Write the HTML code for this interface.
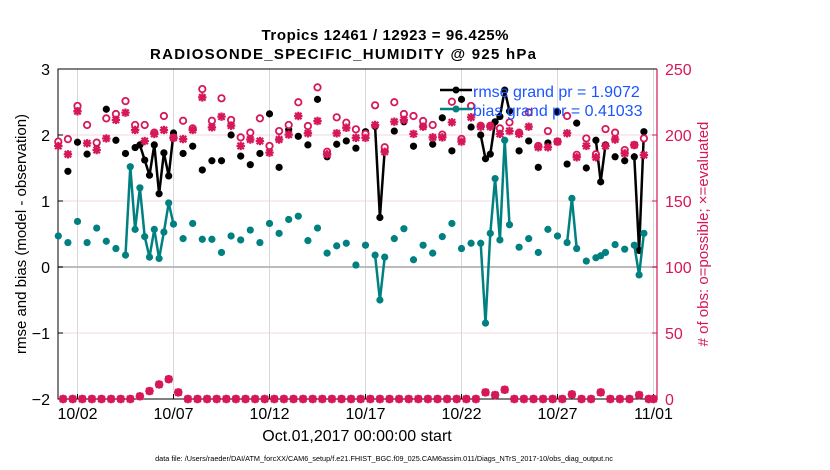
<!DOCTYPE html>
<html><head><meta charset="utf-8"><style>
html,body{margin:0;padding:0;background:#fff;}
svg{display:block;font-family:"Liberation Sans",sans-serif;}
</style></head><body>
<svg id="chart" width="830" height="470" viewBox="0 0 830 470">
<g id="grid"></g>
<g id="axes"></g>
<g id="marks"></g>
<text x="385" y="40" text-anchor="middle" font-weight="bold" font-size="15" textLength="247">Tropics 12461 / 12923 = 96.425%</text>
<text x="343" y="59" text-anchor="middle" font-weight="bold" font-size="15" textLength="386">RADIOSONDE_SPECIFIC_HUMIDITY @ 925 hPa</text>
<text transform="translate(26,234) rotate(-90)" text-anchor="middle" font-size="15">rmse and bias (model - observation)</text>
<text transform="translate(708,234) rotate(-90)" text-anchor="middle" font-size="15" fill="#d6175a"># of obs: o=possible; ×=evaluated</text>
<text x="357" y="441" text-anchor="middle" font-size="16">Oct.01,2017 00:00:00 start</text>
<text x="384" y="461" text-anchor="middle" font-size="7.3">data file: /Users/raeder/DAI/ATM_forcXX/CAM6_setup/f.e21.FHIST_BGC.f09_025.CAM6assim.011/Diags_NTrS_2017-10/obs_diag_output.nc</text>
<g>
<line x1="440" y1="90" x2="472" y2="90" stroke="#000" stroke-width="2.5"/>
<circle cx="456" cy="90" r="3.5" fill="#000"/>
<text x="473" y="97" font-size="16" fill="#1a55ff">rmse grand pr = 1.9072</text>
<line x1="440" y1="109" x2="472" y2="109" stroke="#008080" stroke-width="2.5"/>
<circle cx="456" cy="109" r="3.5" fill="#008080"/>
<text x="473" y="116" font-size="16" fill="#1a55ff">bias grand pr = 0.41033</text>
</g>
</svg>
<script>
const xTickDays = [1,6,11,16,21,26,31];
const xTickLabels = ["10/02","10/07","10/12","10/17","10/22","10/27","11/01"];
const yTicks = [3,2,1,0,-1,-2];
const y2Ticks = [250,200,150,100,50,0];
const rmseDays = [0,0.5,1,1.5,2,2.5,3,3.5,4,4.25,4.5,4.75,5,5.25,5.5,5.75,6,6.5,7,7.5,8,8.5,9,9.5,10,10.5,11,11.5,12,12.5,13,13.5,14,14.5,15,15.5,16,16.5,16.75,17,17.5,18,18.5,19,19.5,20,20.5,21,21.5,22,22.25,22.5,22.75,23,23.25,23.5,24,24.5,25,25.5,26,26.5,27,27.5,28,28.25,28.5,29,29.5,30,30.25,30.5];
const rmseVals = [1.88,1.45,1.89,1.71,1.87,2.39,1.92,1.72,1.81,1.85,1.62,1.39,1.85,1.11,1.73,1.38,2.03,1.72,1.83,1.47,1.61,1.61,2.0,1.68,1.55,1.72,2.32,1.51,2.08,1.98,1.85,2.54,1.67,1.86,1.91,1.80,2.05,2.13,0.75,1.77,2.06,2.2,1.83,2.13,1.86,2.26,1.76,2.54,2.12,2.0,1.64,1.71,2.2,2.28,2.68,2.36,1.76,1.91,1.51,1.88,2.35,1.56,2.18,1.5,1.92,1.29,1.85,1.67,1.61,1.67,0.25,2.05];
const biasDays = [0,0.5,1,1.5,2,2.5,3,3.5,3.75,4,4.25,4.5,4.75,5,5.25,5.5,5.75,6,6.5,7,7.5,8,8.5,9,9.5,10,10.5,11,11.5,12,12.5,13,13.5,14,14.5,15,15.5,16,16.5,16.75,17,17.5,18,18.5,19,19.5,20,20.5,21,21.5,22,22.25,22.5,22.75,23,23.25,23.5,24,24.5,25,25.5,26,26.5,26.75,27,27.5,28,28.25,28.5,29,29.5,30,30.25,30.5];
const biasVals = [0.47,0.37,0.69,0.37,0.59,0.39,0.28,0.18,1.52,0.57,1.2,0.46,0.15,0.57,0.13,0.53,0.97,0.65,0.43,0.66,0.42,0.42,0.22,0.47,0.41,0.56,0.37,0.66,0.51,0.72,0.77,0.40,0.59,0.21,0.32,0.36,0.03,0.33,0.18,-0.5,0.15,0.43,0.58,0.11,0.33,0.21,0.46,0.66,0.28,0.36,0.36,-0.85,0.51,1.34,0.41,1.92,0.64,0.30,0.43,0.22,0.57,0.47,0.37,1.04,0.28,0.09,0.14,0.17,0.22,0.34,0.27,0.33,-0.12,0.51];
const obsDays = [0,0.5,1,1.5,2,2.5,3,3.5,4,4.5,5,5.5,6,6.5,7,7.5,8,8.5,9,9.5,10,10.5,11,11.5,12,12.5,13,13.5,14,14.5,15,15.5,16,16.5,17,17.5,18,18.5,19,19.5,20,20.5,21,21.5,22,22.5,23,23.5,24,24.5,25,25.5,26,26.5,27,27.5,28,28.5,29,29.5,30,30.5];
const possibleVals = [195,196.9,222,207.6,194.2,212.6,215.9,225.7,207.6,207.6,201.8,214.4,197.9,210.8,205,234.8,210.8,227.8,211.4,198.2,201.8,212.6,191.7,203,207.6,224.8,206.8,236.1,187.3,213.4,209.3,204.3,200.8,222.5,190.7,224.8,215.9,214.4,210.6,207.6,200.3,225.2,197,222,207,207,205,209.6,201.8,217.2,191.7,203,195,214.4,185,197.4,185.4,204.5,201.8,188.6,192.4,197.4];
const evaluatedVals = [191.7,185.4,218,193.7,188.6,197.4,211.4,216.9,203.8,195.4,200.8,203.8,197.9,196.9,203.8,228.5,205.8,213.9,207.1,191.7,196.6,195.4,186.6,196.6,200.3,214.4,201.3,210.6,185.4,201.3,205.5,197.9,197.9,207.6,187.3,210.1,211.4,200.8,206.3,198.2,198.2,209.6,195,213.4,206.3,206.3,200.8,203,200.8,206.3,190.7,190.7,195,201.3,183.1,191.7,183.1,191.7,196.6,186.1,192.4,184.8];
const lowDays = [0.25,0.75,1.25,1.75,2.25,2.75,3.25,3.75,4.25,4.75,5.25,5.75,6.25,6.75,7.25,7.75,8.25,8.75,9.25,9.75,10.25,10.75,11.25,11.75,12.25,12.75,13.25,13.75,14.25,14.75,15.25,15.75,16.25,16.75,17.25,17.75,18.25,18.75,19.25,19.75,20.25,20.75,21.25,21.75,22.25,22.75,23.25,23.75,24.25,24.75,25.25,25.75,26.25,26.75,27.25,27.75,28.25,28.75,29.25,29.75,30.25,30.75,31];
const lowCounts = [0,0,0,0,0,0,0,0,2,6,11,15,5,0,0,0,0,0,0,0,0,0,0,0,0,0,0,0,0,0,0,0,0,0,0,0,0,0,0,0,0,0,0,0,5,3,7,0,0,0,0,0,0,3.5,0,0,5,0,0,0,3,0,0];

const NS = "http://www.w3.org/2000/svg";
const L = 58, R = 657, T = 69, B = 399;
function x(d){ return 58.3 + d * 19.2; }
function y(v){ return 267 - v * 66; }
function y2(c){ return 399 - c * 1.32; }
function mk(tag, attrs, parent){
  const e = document.createElementNS(NS, tag);
  for (const k in attrs) e.setAttribute(k, attrs[k]);
  parent.appendChild(e);
  return e;
}
const grid = document.getElementById('grid');
const axes = document.getElementById('axes');
const marks = document.getElementById('marks');
const PINK = "#d6175a", TEAL = "#008080";

y2Ticks.forEach(c => {
  const gl = mk('line', {x1:L, x2:R, y1:y2(c), y2:y2(c), stroke:'#f0d6df', 'stroke-width':1}, grid);
  
  
});
xTickDays.forEach((d, i) => {
  const gl = mk('line', {x1:x(d), x2:x(d), y1:T, y2:B, stroke:'#d8d8d8', 'stroke-width':1}, grid);
  
  
  const t = mk('text', {x:x(d), y:419, 'text-anchor':'middle', 'font-size':16}, axes);
  t.textContent = xTickLabels[i];
  
  
  mk('line', {x1:x(d), x2:x(d), y1:B, y2:B-5, stroke:'#000'}, axes);
});
const zl = mk('line', {x1:L, x2:R, y1:y(0), y2:y(0), stroke:'#bbb', 'stroke-width':2}, grid);



yTicks.forEach(v => {
  const t = mk('text', {x:50, y:y(v)+6, 'text-anchor':'end', 'font-size':16}, axes);
  t.textContent = v < 0 ? '\u2212' + Math.abs(v) : String(v);
  
  
  mk('line', {x1:L, x2:L+5, y1:y(v), y2:y(v), stroke:'#000'}, axes);
});
y2Ticks.forEach(c => {
  const t = mk('text', {x:665, y:y2(c)+6, 'font-size':16, fill:PINK}, axes);
  t.textContent = String(c);
  
  
  mk('line', {x1:R, x2:R-5, y1:y2(c), y2:y2(c), stroke:PINK}, axes);
});
mk('path', {d:`M${R},${T} L${L},${T} L${L},${B} L${R},${B}`, fill:'none', stroke:'#000', 'stroke-width':1}, axes);
mk('line', {x1:R, x2:R, y1:T, y2:B, stroke:PINK, 'stroke-width':1.2}, axes);

function series(days, vals, color, name){
  const g = mk('g', {}, marks);
  
  
  for (let i = 1; i < days.length; i++) {
    if (Math.abs(days[i] - days[i-1] - 0.25) < 1e-6) {
      mk('line', {x1:x(days[i-1]), y1:y(vals[i-1]), x2:x(days[i]), y2:y(vals[i]), stroke:color, 'stroke-width':2.5}, g);
    }
  }
  days.forEach((d, i) => {
    const c = mk('circle', {cx:x(d), cy:y(vals[i]), r:3.6, fill:color}, g);
    
    
  });
}
series(rmseDays, rmseVals, '#000', 'rmse-series');
series(biasDays, biasVals, TEAL, 'bias-series');

function star(cx, cy, g){
  const s = 4.2, d = 3.2;
  mk('path', {d:`M${cx-s},${cy}H${cx+s}M${cx},${cy-s}V${cy+s}M${cx-d},${cy-d}L${cx+d},${cy+d}M${cx-d},${cy+d}L${cx+d},${cy-d}`, stroke:PINK, 'stroke-width':2.2, fill:'none'}, g);
}
const pg = mk('g', {}, marks);


obsDays.forEach((d, i) => {
  const c = mk('circle', {cx:x(d), cy:y2(possibleVals[i]), r:3.2, fill:'#fff', stroke:PINK, 'stroke-width':1.8}, pg);
  
  
  star(x(d), y2(evaluatedVals[i]), pg);
});
lowDays.forEach((d, i) => {
  const c = mk('circle', {cx:x(d), cy:y2(lowCounts[i]), r:3.2, fill:PINK, stroke:PINK, 'stroke-width':1.8}, pg);
  
  
  star(x(d), y2(lowCounts[i]), pg);
});
</script>
</body></html>
